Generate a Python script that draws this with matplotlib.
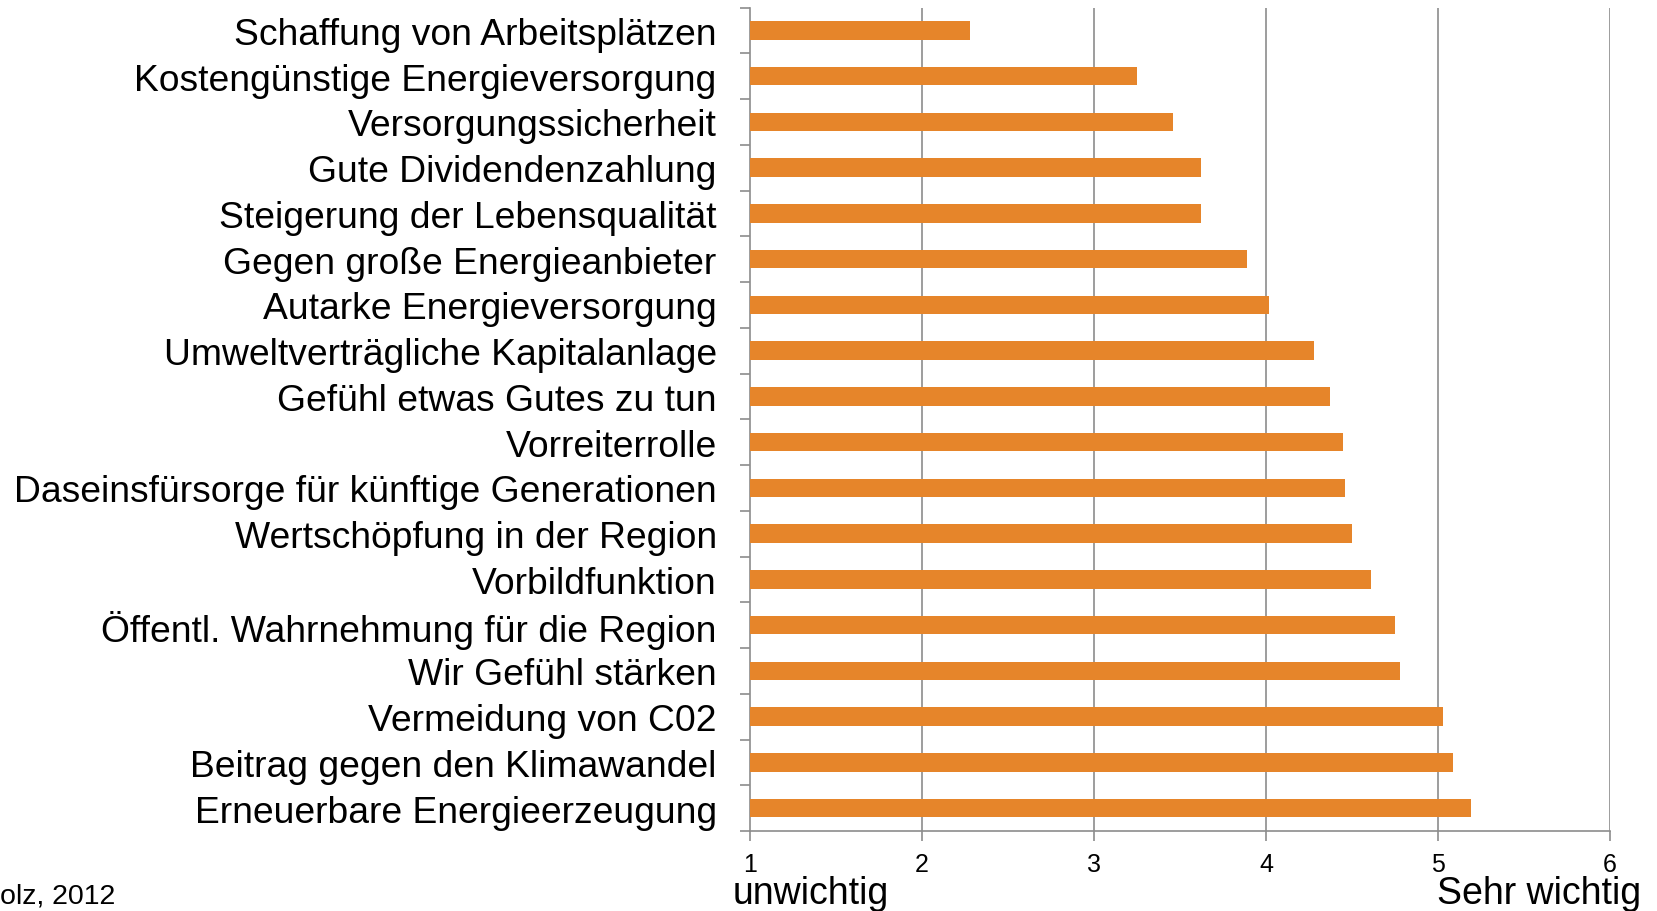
import matplotlib
matplotlib.use('Agg')
import matplotlib.pyplot as plt
import numpy as np

plt.rcParams['font.family'] = ['Liberation Sans', 'DejaVu Sans']

categories = [
    'Schaffung von Arbeitsplätzen',
    'Kostengünstige Energieversorgung',
    'Versorgungssicherheit',
    'Gute Dividendenzahlung',
    'Steigerung der Lebensqualität',
    'Gegen große Energieanbieter',
    'Autarke Energieversorgung',
    'Umweltverträgliche Kapitalanlage',
    'Gefühl etwas Gutes zu tun',
    'Vorreiterrolle',
    'Daseinsfürsorge für künftige Generationen',
    'Wertschöpfung in der Region',
    'Vorbildfunktion',
    'Öffentl. Wahrnehmung für die Region',
    'Wir Gefühl stärken',
    'Vermeidung von C02',
    'Beitrag gegen den Klimawandel',
    'Erneuerbare Energieerzeugung',
]
values = [2.28, 3.25, 3.46, 3.62, 3.62, 3.89, 4.02, 4.28, 4.37, 4.45,
          4.46, 4.50, 4.61, 4.75, 4.78, 5.03, 5.09, 5.19]
xticks = [1, 2, 3, 4, 5, 6]

grey = '#8c8c8c'
fig = plt.figure(figsize=(16.58, 9.12), dpi=100)
ax = fig.add_axes([750/1658, 1-832/912, 860/1658, (832-8.5)/912])

y = np.arange(len(categories))
ax.barh(y, np.array(values) - 1, left=1, height=0.4, color='#E6852A', zorder=3)

ax.set_xlim(1, 6)
ax.set_ylim(len(categories) - 0.5, -0.5)
ax.set_xticks(xticks)
ax.set_xticklabels([str(t) for t in xticks], fontsize=18)
ax.set_yticks(y)
ax.set_yticklabels(categories, fontsize=26.8)
ax.set_yticks(np.arange(-0.5, len(categories)), minor=True)
ax.tick_params(axis='y', which='major', length=0, pad=24)
ax.tick_params(axis='y', which='minor', length=7, color=grey, width=1.2)
ax.tick_params(axis='x', length=7, color=grey, width=1.2, pad=8)

for s in ['top', 'right']:
    ax.spines[s].set_visible(False)
for s in ['left', 'bottom']:
    ax.spines[s].set_color(grey)
    ax.spines[s].set_linewidth(1.2)

for t in xticks[1:]:
    ax.axvline(t, color=grey, lw=1.2, zorder=1)

fig.text(733/1658, 1-894/912, 'unwichtig', fontsize=27, ha='left', va='center')
fig.text(1641/1658, 1-894/912, 'Sehr wichtig', fontsize=27, ha='right', va='center')
fig.text(0, 1-897/912, 'olz, 2012', fontsize=20.5, ha='left', va='center')

fig.savefig('out.png', dpi=100)
